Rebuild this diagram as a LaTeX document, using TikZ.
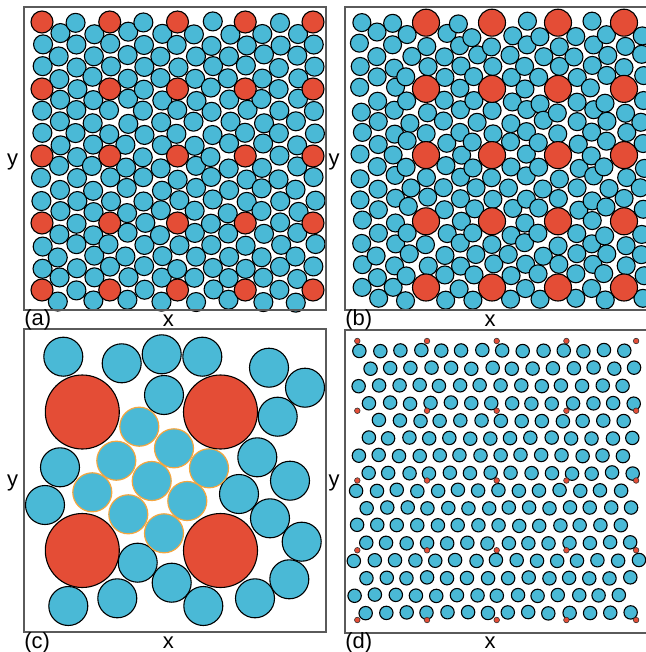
\documentclass[tikz,border=0pt]{standalone}
\usepackage{fontspec}
\setmainfont{Liberation Sans}
\definecolor{discblue}{HTML}{4AB9D6}
\definecolor{discred}{HTML}{E44D36}
\definecolor{ringorange}{HTML}{F4A640}
\definecolor{framegray}{HTML}{5A5A5A}
\begin{document}
\begin{tikzpicture}[
    x=0.5pt, y=0.5pt,
    font=\fontsize{11}{13}\selectfont,
    % Styles
    panelframe/.style={draw=framegray, line width=0.8pt},
    bluedisc/.style={fill=discblue, draw=black, line width=0.55pt},
    reddisc/.style={fill=discred, draw=black, line width=0.55pt},
    ringdisc/.style={fill=discblue, draw=ringorange, line width=0.6pt},
    tinyred/.style={fill=discred, draw=black!80, line width=0.3pt},
    tag/.style={anchor=west, inner sep=0pt},
    axislabel/.style={inner sep=0pt}
]
\useasboundingbox (0,0) rectangle (645,-652);

% ==================== PANEL (a) ====================
\pgfmathsetseed{11}
\foreach \k in {0,...,16}{
  \foreach \m in {0,...,12}{
    \pgfmathtruncatemacro\isred{(mod(\k,4)==0)&&(mod(\m,3)==0)}
    \ifnum\isred=0
      \pgfmathsetmacro\ax{42+17*\k+1.6*rand}
      \pgfmathsetmacro\ay{22+22.33*\m+11.17*mod(\k,2)+1.6*rand}
      \filldraw[bluedisc] (\ax,-\ay) circle[radius=9.5];
    \fi
  }
}
\foreach \i in {0,...,4}
  \foreach \j in {0,...,4}
    \filldraw[reddisc] (42+67.75*\i,-22-67*\j) circle[radius=11];
\draw[panelframe] (24,-7) rectangle (326,-310);

% ==================== PANEL (b) ====================
\pgfmathsetseed{5}
\foreach \k in {0,...,17}{
  \foreach \m in {0,...,12}{
    \pgfmathtruncatemacro\isred{(mod(\k,4)==0)&&(\k>0)&&(mod(\m,3)==0)}
    \ifnum\isred=0
      \pgfmathsetmacro\bx{361+16.5*\k}
      \pgfmathsetmacro\by{22.7+22.07*\m+11.03*mod(\k,2)}
      \pgfmathsetmacro\bri{max(0,min(3,round((\bx-426)/66)))}
      \pgfmathsetmacro\brj{max(0,min(4,round((\by-22.7)/66.2)))}
      \pgfmathsetmacro\bdx{\bx-426-66*\bri}
      \pgfmathsetmacro\bdy{\by-22.7-66.2*\brj}
      \pgfmathsetmacro\bdd{max(0.01,veclen(\bdx,\bdy))}
      \pgfmathsetmacro\bfac{\bdd<23 ? 23/\bdd : 1}
      \pgfmathsetmacro\qx{426+66*\bri+\bdx*\bfac+1.8*rand}
      \pgfmathsetmacro\qy{22.7+66.2*\brj+\bdy*\bfac+1.8*rand}
      \filldraw[bluedisc] (\qx,-\qy) circle[radius=9];
    \fi
  }
}
\foreach \i in {0,...,3}
  \foreach \j in {0,...,4}
    \filldraw[reddisc] (426+66*\i,-22.7-66.2*\j) circle[radius=13.5];
\draw[panelframe] (345,-7) rectangle (647,-310);

% ==================== PANEL (c) ====================
\foreach \px/\py in {63.3/356.7, 121.7/363.3, 161.7/354.3, 202.3/356.7, 269/367.7,
    305/387.7, 164/395, 277.7/416.7, 60/467.3, 257.3/457.3, 290/480.7, 45/505,
    239/494, 270/518.3, 301.7/541.7, 137.7/562.7, 171.7/582.7, 117.3/598.3,
    68.3/606, 203.3/606, 255/598.3, 289.3/579.3}
  \filldraw[bluedisc] (\px,-\py) circle[radius=19.5];
\foreach \px/\py in {139.3/426.7, 174/448.3, 116.3/460.7, 209/468.3, 151.7/481,
    92.3/492.3, 187.3/501, 128.3/514.3, 164/533.3}
  \filldraw[ringdisc] (\px,-\py) circle[radius=19.5];
\foreach \px/\py in {82.3/412, 220.5/412, 82.3/550.5, 220.5/550.5}
  \filldraw[reddisc] (\px,-\py) circle[radius=37];
\draw[panelframe] (24,-329) rectangle (326,-632);

% ==================== PANEL (d) ====================
\pgfmathsetseed{3}
\foreach \r/\xs in {0/360, 1/370, 2/358.3, 3/369.3, 4/379.3, 5/368.3, 6/358.3,
    7/368.3, 8/356.7, 9/366.7, 10/356.7, 11/366, 12/354, 13/366, 14/355, 15/366}{
  \foreach \c in {0,...,14}{
    \pgfmathsetmacro\dx{\xs+20.33*\c+0.7*rand}
    \pgfmathsetmacro\dy{350.7+17.47*\r+0.7*rand}
    \pgfmathtruncatemacro\keep{\dx<639}
    \ifnum\keep=1
      \filldraw[bluedisc] (\dx,-\dy) circle[radius=6.7];
    \fi
  }
}
\foreach \i in {0,...,4}
  \foreach \j in {0,...,4}
    \filldraw[tinyred] (357.3+69.7*\i,-341-69.75*\j) circle[radius=2.8];
\draw[panelframe] (345,-330) rectangle (647,-633);

% ==================== LABELS ====================
\node[tag] (tag_a) at (24,-319.5) {(a)};
\node[tag] (tag_b) at (345,-319.5) {(b)};
\node[tag] (tag_c) at (24,-642.5) {(c)};
\node[tag] (tag_d) at (345,-642.5) {(d)};
\node[axislabel] (xlab_a) at (168.3,-320.7) {x};
\node[axislabel] (xlab_b) at (490,-320.7) {x};
\node[axislabel] (xlab_c) at (168.3,-642.7) {x};
\node[axislabel] (xlab_d) at (490,-642.7) {x};
\node[axislabel] (ylab_a) at (12.5,-162) {y};
\node[axislabel] (ylab_b) at (334,-162) {y};
\node[axislabel] (ylab_c) at (12.5,-483) {y};
\node[axislabel] (ylab_d) at (334,-483) {y};

\end{tikzpicture}
\end{document}
